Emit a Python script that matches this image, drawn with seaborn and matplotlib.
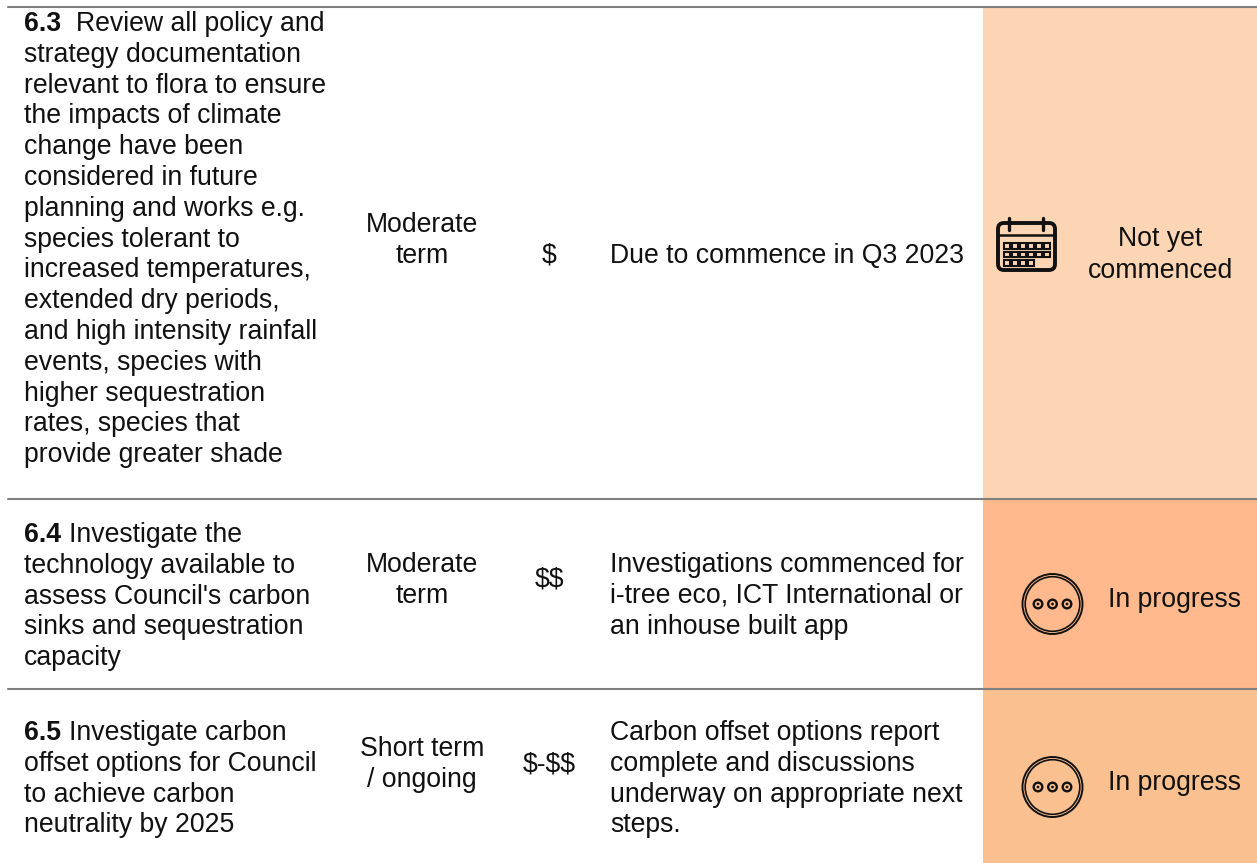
import matplotlib
matplotlib.use("Agg")
import matplotlib.pyplot as plt
from matplotlib.patches import Circle, FancyBboxPatch, Rectangle
import seaborn as sns

# --- table content ---
ACTION_IDS = ["6.3", "6.4", "6.5"]
ACTION_LINES = [
    ["Review all policy and", "strategy documentation", "relevant to flora to ensure",
     "the impacts of climate", "change have been", "considered in future",
     "planning and works e.g.", "species tolerant to", "increased temperatures,",
     "extended dry periods,", "and high intensity rainfall", "events, species with",
     "higher sequestration", "rates, species that", "provide greater shade"],
    ["Investigate the", "technology available to", "assess Council's carbon",
     "sinks and sequestration", "capacity"],
    ["Investigate carbon", "offset options for Council", "to achieve carbon",
     "neutrality by 2025"],
]
TIMEFRAMES = [["Moderate", "term"], ["Moderate", "term"], ["Short term", "/ ongoing"]]
COSTS = ["$", "$$", "$-$$"]
COMMENTS = [
    ["Due to commence in Q3 2023"],
    ["Investigations commenced for", "i-tree eco, ICT International or", "an inhouse built app"],
    ["Carbon offset options report", "complete and discussions",
     "underway on appropriate next", "steps."],
]
STATUSES = [["Not yet", "commenced"], ["In progress"], ["In progress"]]
STATUS_COLORS = ["#FCD5B5", "#FFB98C", "#FAC090"]

# layout in pixels, y values are text baselines
W, H = 1257, 863
ROW_TOPS = [7, 499, 689]
ROW_BOTTOMS = [499, 689, 863]
ACTION_Y = [31, 542, 740]
ACTION_X = [76, 69, 69]
TIME_Y = [232, 572, 755.5]
COST_Y = [262.5, 586.5, 771.5]
COMMENT_Y = [262.5, 572, 740]
STATUS_Y = [246, 607, 790]
ICON_Y = [247, 604, 787]
LINE_GAP = 30.8
FS = 19.2
TXT = "#111111"

sns.set_theme(style="white")
plt.rcParams['font.family'] = ['Liberation Sans', 'DejaVu Sans']

fig = plt.figure(figsize=(W / 100, H / 100), dpi=100)
ax = fig.add_axes([0, 0, 1, 1])
ax.set_xlim(0, W)
ax.set_ylim(H, 0)
ax.axis("off")


def put(x, y, s, **kw):
    ax.text(x, y, s, fontsize=FS, color=TXT, va="baseline", parse_math=False, **kw)


def draw_calendar(cy):
    top = cy - 24
    ax.add_patch(FancyBboxPatch((998, top), 57, 47, boxstyle="round,pad=0,rounding_size=6",
                                fc="none", ec="#111111", lw=2.8))
    ax.plot([998, 1055], [top + 12, top + 12], color="#111111", lw=1.8)
    for x in [1009, 1043]:
        ax.plot([x, x], [top - 5, top + 7], color="#111111", lw=2.4, solid_capstyle="round")
    for r, n in enumerate([6, 6, 4]):
        for c in range(n):
            ax.add_patch(Rectangle((1004 + c * 8, top + 20 + r * 8.7), 6, 5.6,
                                   fc="none", ec="#111111", lw=1.5))


def draw_dots(cy):
    ax.add_patch(Circle((1052.5, cy), 30, fc="none", ec="#111111", lw=1.4))
    ax.add_patch(Circle((1052.5, cy), 27.3, fc="none", ec="#111111", lw=1.2))
    for x in [1038, 1052.5, 1067]:
        ax.add_patch(Circle((x, cy), 4.3, fc="none", ec="#111111", lw=1.7))
        ax.add_patch(Circle((x, cy), 1.4, fc="#111111", ec="none"))


for i in range(3):
    ax.add_patch(Rectangle((983, ROW_TOPS[i]), W - 983, ROW_BOTTOMS[i] - ROW_TOPS[i],
                           fc=STATUS_COLORS[i], ec="none", zorder=0))

    # first column, bold id then the wrapped text
    put(24, ACTION_Y[i], ACTION_IDS[i], fontweight="bold")
    for j, line in enumerate(ACTION_LINES[i]):
        put(ACTION_X[i] if j == 0 else 24, ACTION_Y[i] + j * LINE_GAP, line)

    for j, line in enumerate(TIMEFRAMES[i]):
        put(422, TIME_Y[i] + j * 31, line, ha="center")
    put(549.5, COST_Y[i], COSTS[i], ha="center")
    for j, line in enumerate(COMMENTS[i]):
        put(610, COMMENT_Y[i] + j * LINE_GAP, line)

    if i == 0:
        draw_calendar(ICON_Y[i])
        for j, line in enumerate(STATUSES[i]):
            put(1160.5, STATUS_Y[i] + j * 31.5, line, ha="center")
    else:
        draw_dots(ICON_Y[i])
        put(1174.5, STATUS_Y[i], STATUSES[i][0], ha="center")

for y in ROW_TOPS:
    ax.plot([8, W], [y, y], color="#808080", lw=1.5, zorder=3)

fig.savefig("out.png", dpi=100)
plt.close(fig)
